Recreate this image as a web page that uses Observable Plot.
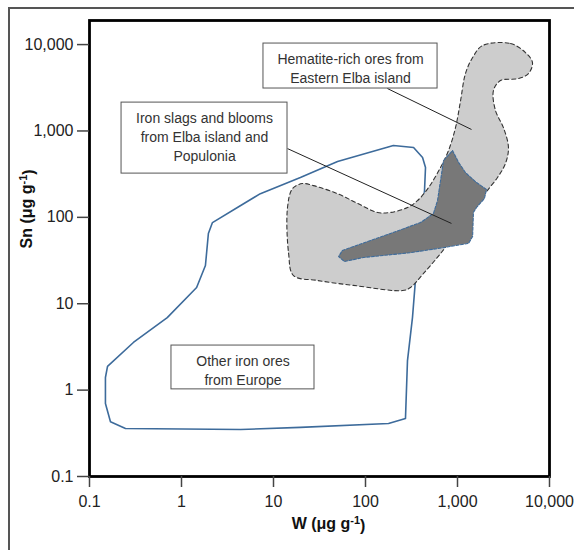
<!DOCTYPE html>
<html><head><meta charset="utf-8">
<script src="https://cdn.jsdelivr.net/npm/d3@7"></script>
<script src="https://cdn.jsdelivr.net/npm/@observablehq/plot@0.6"></script>
<style>
html,body{margin:0;padding:0;background:#fff;overflow:hidden;}
#wrap{position:relative;width:574px;height:550px;overflow:hidden;}
#border{position:absolute;left:8px;top:7px;width:700px;height:700px;border:2px solid #555;box-sizing:border-box;}
#chart{position:absolute;left:0;top:0;}
</style></head><body>
<div id="wrap"><div id="chart"></div><div id="border"></div></div>
<script>
// Axis ticks
const xTicks = [0.1, 1, 10, 100, 1000, 10000];
const yTicks = [0.1, 1, 10, 100, 1000, 10000];

// Other iron ores from Europe (blue outline)
const europeW  = [2.17, 4.4, 7.2, 19.6, 49.7, 201, 333, 417, 449, 438, 396, 349, 324, 286, 272, 178, 19.6, 4.4, 0.246, 0.169, 0.149, 0.149, 0.157, 0.30, 0.70, 1.46, 1.82, 1.96];
const europeSn = [87, 137, 188, 289, 443, 678, 643, 492, 377, 204, 70, 18.6, 6.9, 2.2, 0.47, 0.41, 0.37, 0.35, 0.36, 0.43, 0.70, 1.4, 1.88, 3.56, 6.9, 15.4, 27.7, 65];

// Hematite-rich ores from Eastern Elba island (light grey, dashed)
const hematiteW  = [1870, 3770, 5480, 6530, 5910, 4600, 2930, 2460, 2590, 3160, 3580, 3320, 2720, 2070, 1690, 1080, 653, 427, 308, 252, 74, 30, 16.5, 14.6, 14.2, 16.1, 20.6, 27.2, 49.7, 82, 135, 187, 286, 367, 484, 653, 798, 951, 1080, 1220, 1460];
const hematiteSn = [9730, 10280, 8070, 6190, 4620, 4040, 3830, 2940, 1720, 1090, 643, 420, 289, 199, 145, 76, 38, 22.4, 15.4, 14.2, 16.3, 18.6, 21.2, 38, 130, 215, 246, 233, 188, 145, 114, 114, 130, 156, 221, 377, 593, 1090, 2250, 4620, 7080];

// Iron slags and blooms from Elba island and Populonia (dark grey)
const slagW  = [883, 1030, 1220, 1610, 2070, 1960, 1610, 1490, 1460, 1320, 606, 308, 95, 59, 51, 56, 187, 396, 548, 606, 705];
const slagSn = [593, 431, 330, 253, 210, 165, 130, 114, 60, 50, 43.5, 39, 34.3, 30.8, 35.2, 41.3, 65, 87, 111, 156, 454];

// Annotation labels
const labelText = ["Hematite-rich ores from\nEastern Elba island", "Iron slags and blooms\nfrom Elba island and\nPopulonia", "Other iron ores\nfrom Europe"];
const labelW  = [68.7, 1.78, 4.66];
const labelSn = [5420, 885, 1.73];
const boxW1 = [7.78, 0.223, 0.778];
const boxW2 = [607, 14.2, 27.9];
const boxSn1 = [3100, 321, 1.02];
const boxSn2 = [10280, 2130, 3.28];
// Leader lines
const leadW1 = [173, 14.2];
const leadSn1 = [3100, 625];
const leadW2 = [1420, 860];
const leadSn2 = [1040, 85];

// Axis titles
const xTitle = "W (μg g⁻¹)";
const yTitle = "Sn (μg g⁻¹)";

const toPts = (ws, ss) => ws.map((w, i) => ({W: w, Sn: ss[i]}));
const europe = toPts(europeW, europeSn);
const hematite = toPts(hematiteW, hematiteSn);
const slag = toPts(slagW, slagSn);
const labels = labelText.map((t, i) => ({t, W: labelW[i], Sn: labelSn[i], x1: boxW1[i], x2: boxW2[i], y1: boxSn1[i], y2: boxSn2[i]}));
const leaders = leadW1.map((w, i) => ({x1: w, y1: leadSn1[i], x2: leadW2[i], y2: leadSn2[i]}));

const fmt = d3.format(",");

const chart = Plot.plot({
  width: 574, height: 550,
  marginLeft: 89, marginRight: 25, marginTop: 20, marginBottom: 74,
  x: {type: "log", domain: [0.1, 10000]},
  y: {type: "log", domain: [0.1, 19000]},
  style: {fontFamily: "'Liberation Sans', Arial, sans-serif", fontSize: "16px", color: "#222", background: "transparent"},
  marks: [
    Plot.line(europe, {x: "W", y: "Sn", curve: "linear-closed", stroke: "#3d6b9b", strokeWidth: 1.6}),
    Plot.line(hematite, {x: "W", y: "Sn", curve: "catmull-rom-closed", fill: "#cdcdcd", stroke: "#333", strokeWidth: 1.1, strokeDasharray: "4,3"}),
    Plot.line(slag, {x: "W", y: "Sn", curve: "linear-closed", fill: "#787878", stroke: "#3d6b9b", strokeWidth: 1.1, strokeDasharray: "3,1.5"}),
    Plot.link(leaders, {x1: "x1", y1: "y1", x2: "x2", y2: "y2", stroke: "#222", strokeWidth: 1}),
    Plot.rect(labels, {x1: "x1", x2: "x2", y1: "y1", y2: "y2", fill: "white", stroke: "#555", strokeWidth: 1}),
    Plot.text(labels, {x: "W", y: "Sn", text: "t", fontSize: 14, lineHeight: 1.36, fill: "#333"}),
    Plot.frame({stroke: "#000", strokeWidth: 2.8}),
    Plot.axisX({ticks: xTicks, tickFormat: fmt, tickSize: 11, tickPadding: 8, label: null, stroke: "#444", strokeWidth: 1.5}),
    Plot.axisY({ticks: yTicks, tickFormat: fmt, tickSize: 12, tickPadding: 4, label: null, stroke: "#444", strokeWidth: 1.5}),
    Plot.text([xTitle], {frameAnchor: "bottom", dy: 52, dx: 9, fontWeight: "bold", fontSize: 16, fill: "#111"}),
    Plot.text([yTitle], {frameAnchor: "left", dx: -63, rotate: -90, fontWeight: "bold", fontSize: 16, fill: "#111"})
  ]
});
document.getElementById("chart").appendChild(chart);

// Render "⁻¹" as a true superscript
d3.select(chart).selectAll("text").each(function() {
  const el = d3.select(this);
  if (this.querySelector("tspan")) return;
  const s = this.textContent;
  const k = s.indexOf("⁻¹");
  if (k < 0) return;
  el.text(null);
  el.append("tspan").text(s.slice(0, k));
  el.append("tspan").attr("dy", "-0.45em").attr("font-size", "11px").text("-1");
  el.append("tspan").attr("dy", "0.45em").text(s.slice(k + 2));
});
</script>
</body></html>
